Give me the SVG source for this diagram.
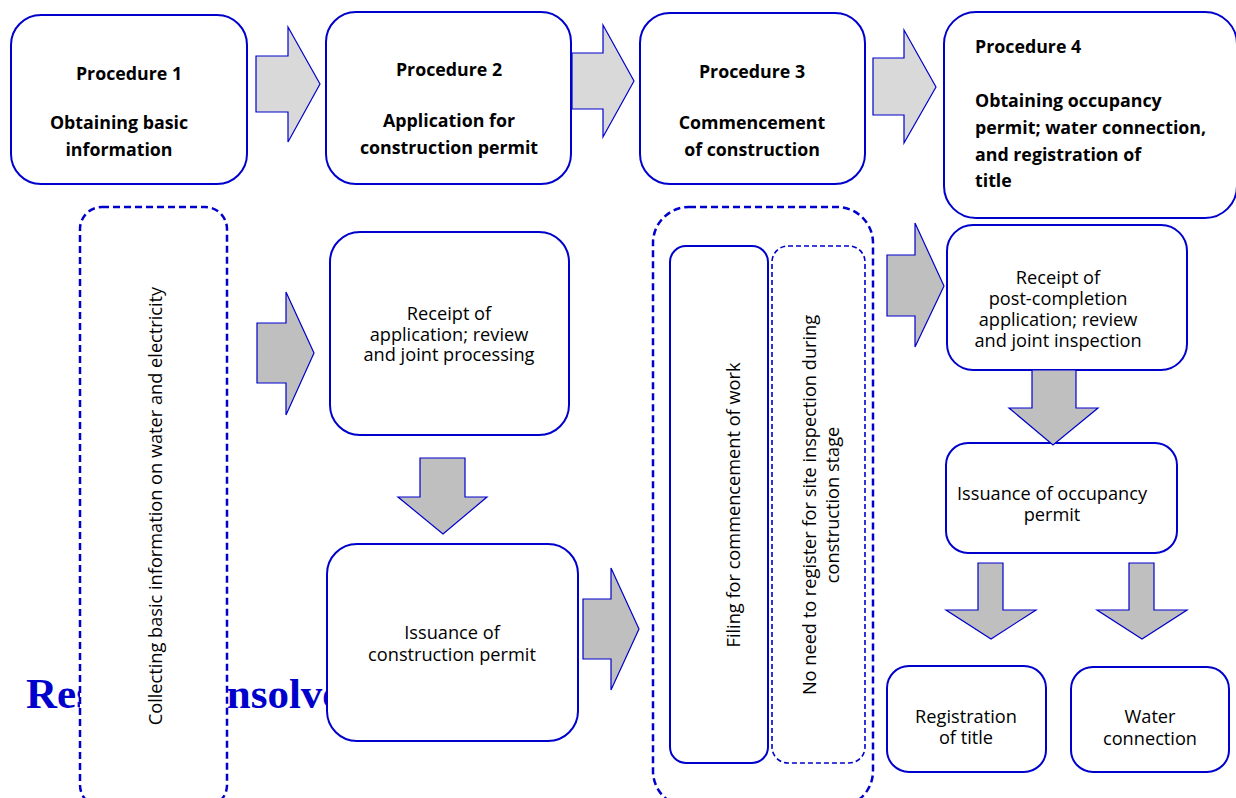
<svg xmlns="http://www.w3.org/2000/svg" width="1236" height="798" viewBox="0 0 1236 798">
<style>
.box{fill:#fff;stroke:#0000CC;stroke-width:2}
.dash{fill:#fff;stroke:#0000CC;stroke-width:2.5;stroke-dasharray:7 4}
.dash2{fill:none;stroke:#0000CC;stroke-width:1.6;stroke-dasharray:5 3}
.arL{fill:#D9D9D9;stroke:#0000CC;stroke-width:1.2}
.arD{fill:#BFBFBF;stroke:#0000CC;stroke-width:1.2}
.h{font-family:"Open Sans",Lato,sans-serif;font-weight:bold;font-size:17.8px;fill:#000}
.t{font-family:"Open Sans",Lato,sans-serif;font-size:18.2px;fill:#000}
.c{text-anchor:middle}
.bg{font-family:"Liberation Serif","Times New Roman",serif;font-weight:bold;font-size:43px;fill:#0000CC}
</style>
<rect width="1236" height="798" fill="#fff"/>
<text class="bg" x="26" y="708">Res<tspan x="210">Insolvency</tspan></text>

<g id="proc1"><rect class="box" x="11" y="15" width="236" height="169" rx="30"/>
<text class="h c" x="129" y="80">Procedure 1</text>
<text class="h c" x="119" y="129">Obtaining basic</text>
<text class="h c" x="119" y="156">information</text></g>

<g id="proc2"><rect class="box" x="326" y="12" width="245" height="172" rx="30"/>
<text class="h c" x="449" y="76">Procedure 2</text>
<text class="h c" x="449" y="127">Application for</text>
<text class="h c" x="449" y="154">construction permit</text></g>

<g id="proc3"><rect class="box" x="640" y="13" width="225" height="171" rx="30"/>
<text class="h c" x="752" y="78">Procedure 3</text>
<text class="h c" x="752" y="129">Commencement</text>
<text class="h c" x="752" y="156">of construction</text></g>

<g id="proc4"><rect class="box" x="944" y="12" width="293" height="206" rx="32"/>
<text class="h" x="975" y="53">Procedure 4</text>
<text class="h" x="975" y="107">Obtaining occupancy</text>
<text class="h" x="975" y="134">permit; water connection,</text>
<text class="h" x="975" y="161">and registration of</text>
<text class="h" x="975" y="187">title</text></g>

<g id="collect"><rect class="dash" x="80" y="207" width="147" height="600" rx="22"/>
<text class="t c" transform="translate(162,506) rotate(-90)">Collecting basic information on water and electricity</text></g>

<g id="receipt1"><rect class="box" x="330" y="232" width="239" height="203" rx="30"/>
<text class="t c" x="449" y="320">Receipt of</text>
<text class="t c" x="449" y="341">application; review</text>
<text class="t c" x="449" y="361">and joint processing</text></g>

<g id="issue1"><rect class="box" x="327" y="544" width="251" height="197" rx="30"/>
<text class="t c" x="452" y="639">Issuance of</text>
<text class="t c" x="452" y="661">construction permit</text></g>

<g id="commence"><rect class="dash" x="653" y="207" width="220" height="600" rx="36"/>
<rect class="box" x="670" y="246" width="98" height="517" rx="16"/>
<rect class="dash2" x="772" y="246" width="93" height="517" rx="16"/>
<text class="t c" transform="translate(740,505) rotate(-90)">Filing for commencement of work</text>
<text class="t c" transform="translate(816,505) rotate(-90)">No need to register for site inspection during</text>
<text class="t c" transform="translate(839,505) rotate(-90)">construction stage</text></g>

<g id="receipt2"><rect class="box" x="947" y="225" width="240" height="145" rx="26"/>
<text class="t c" x="1058" y="284">Receipt of</text>
<text class="t c" x="1058" y="305">post-completion</text>
<text class="t c" x="1058" y="326">application; review</text>
<text class="t c" x="1058" y="347">and joint inspection</text></g>

<g id="issue2"><rect class="box" x="946" y="443" width="231" height="110" rx="22"/>
<text class="t c" x="1052" y="500">Issuance of occupancy</text>
<text class="t c" x="1052" y="521">permit</text></g>

<g id="title"><rect class="box" x="887" y="666" width="159" height="106" rx="22"/>
<text class="t c" x="966" y="723">Registration</text>
<text class="t c" x="966" y="744">of title</text></g>

<g id="water"><rect class="box" x="1071" y="667" width="158" height="105" rx="22"/>
<text class="t c" x="1150" y="723">Water</text>
<text class="t c" x="1150" y="745">connection</text></g>

<g id="connectors">
<polygon class="arL" points="256,56 288,56 288,27 320,84 288,142 288,112 256,112"/>
<polygon class="arL" points="572,53 603,53 603,25 634,81 603,137 603,109 572,109"/>
<polygon class="arL" points="873,58 904,58 904,30 936,87 904,143 904,115 873,115"/>
<polygon class="arD" points="257,323 286,323 286,292 314,353 286,415 286,383 257,383"/>
<polygon class="arD" points="420,458 465,458 465,497 487,497 443,534 398,497 420,497"/>
<polygon class="arD" points="583,599 611,599 611,568 639,629 611,690 611,659 583,659"/>
<polygon class="arD" points="887,255 915,255 915,223 944,286 915,347 915,316 887,316"/>
<polygon class="arD" points="1032,370 1076,370 1076,408 1098,408 1053,445 1009,408 1032,408"/>
<polygon class="arD" points="978,563 1003,563 1003,610 1036,610 991,639 946,610 978,610"/>
<polygon class="arD" points="1129,563 1154,563 1154,610 1187,610 1142,639 1097,610 1129,610"/>
</g>
</svg>
